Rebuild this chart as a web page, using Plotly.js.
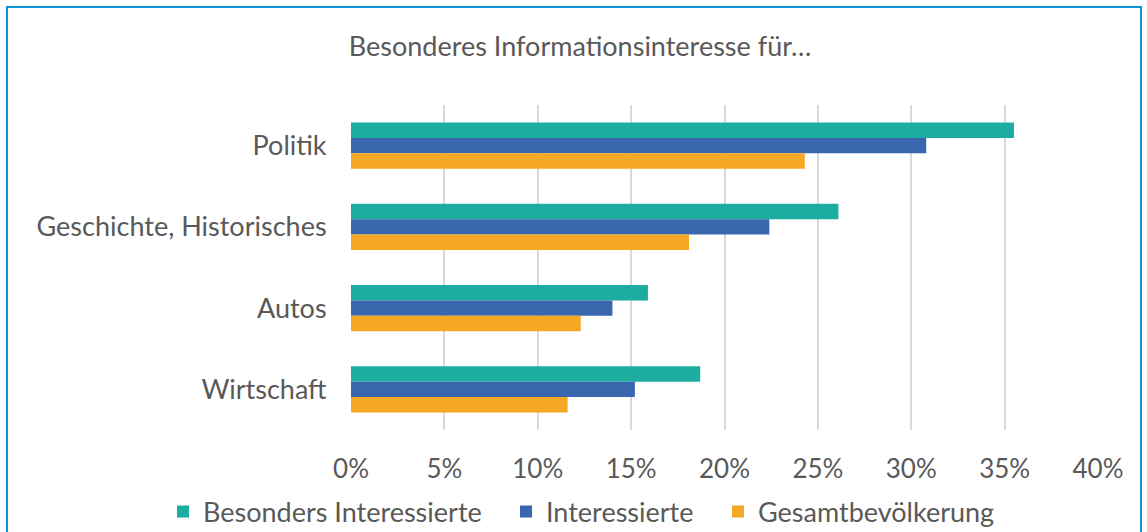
<!DOCTYPE html>
<html>
<head>
<meta charset="utf-8">
<script src="https://cdn.plot.ly/plotly-3.0.1.min.js"></script>
<style>
  html, body { margin: 0; padding: 0; background: #fff; }
  #wrap { position: relative; width: 1147px; height: 532px; overflow: hidden; }
  #frame { position: absolute; left: 6px; top: 6px; width: 1136px; height: 540px; border: 2px solid #1391d8; box-sizing: border-box; pointer-events: none; z-index: 5; }
  #chart { position: absolute; left: 0; top: 0; width: 1147px; height: 532px; }
</style>
</head>
<body>
<div id="wrap">
  <div id="chart"></div>
  <div id="frame"></div>
</div>
<script>
const categories = ["Politik", "Geschichte, Historisches", "Autos", "Wirtschaft"];
const besondersInteressierte = [35.5, 26.1, 15.9, 18.7];
const interessierte = [30.8, 22.4, 14.0, 15.2];
const gesamtbevoelkerung = [24.3, 18.1, 12.3, 11.6];
const seriesNames = ["Besonders Interessierte", "Interessierte", "Gesamtbevölkerung"];
const tickValues = [0, 5, 10, 15, 20, 25, 30, 35, 40];
const tickLabels = ["0%", "5%", "10%", "15%", "20%", "25%", "30%", "35%", "40%"];

const colors = ["#1cada0", "#3a66ae", "#f5a823"];
const seriesData = [besondersInteressierte, interessierte, gesamtbevoelkerung];
const legendIds = ["legend", "legend2", "legend3"];
const legendTextStart = [203, 546, 758];

const traces = seriesData.map((vals, i) => ({
  type: "bar",
  orientation: "h",
  name: seriesNames[i],
  x: vals,
  y: categories,
  legend: legendIds[i],
  marker: { color: colors[i], line: { width: 0 } },
  hoverinfo: "x+y+name"
}));

const font = "Lato, 'Open Sans', sans-serif";
const txt = "#595959";
const W = 1147, H = 532;
const layout = {
  width: W,
  height: H,
  margin: { l: 351, r: 49, t: 105, b: 102 },
  paper_bgcolor: "#ffffff",
  plot_bgcolor: "#ffffff",
  barmode: "group",
  bargap: 0.43,
  bargroupgap: 0,
  font: { family: font, color: txt, size: 27 },
  title: {
    text: "Besonderes Informationsinteresse für…",
    font: { family: font, size: 27, color: txt },
    x: 580 / W, xanchor: "center", xref: "container",
    y: 1 - 47 / H, yref: "container",
    yanchor: "middle"
  },
  xaxis: {
    range: [0, 40],
    tickvals: tickValues,
    ticktext: tickLabels,
    showgrid: true,
    gridcolor: "#d9d9d9",
    gridwidth: 2,
    zeroline: false,
    showline: false,
    ticks: "outside",
    ticklen: 16,
    tickcolor: "rgba(0,0,0,0)",
    tickfont: { family: font, size: 26, color: txt },
    fixedrange: true
  },
  yaxis: {
    autorange: "reversed",
    showgrid: false,
    zeroline: false,
    showline: false,
    ticks: "outside",
    ticklen: 18,
    tickcolor: "rgba(0,0,0,0)",
    tickfont: { family: font, size: 27, color: txt },
    fixedrange: true
  },
  showlegend: true
};

legendIds.forEach((id, i) => {
  layout[id] = {
    orientation: "h",
    x: (legendTextStart[i] - 40) / W, xanchor: "left", xref: "container",
    y: 1 - 512 / H, yref: "container", yanchor: "middle",
    font: { family: font, size: 27, color: txt },
    itemwidth: 30,
    borderwidth: 0,
    bgcolor: "rgba(0,0,0,0)",
    itemclick: false
  };
});

Plotly.newPlot("chart", traces, layout, { displayModeBar: false, staticPlot: true });
</script>
</body>
</html>
